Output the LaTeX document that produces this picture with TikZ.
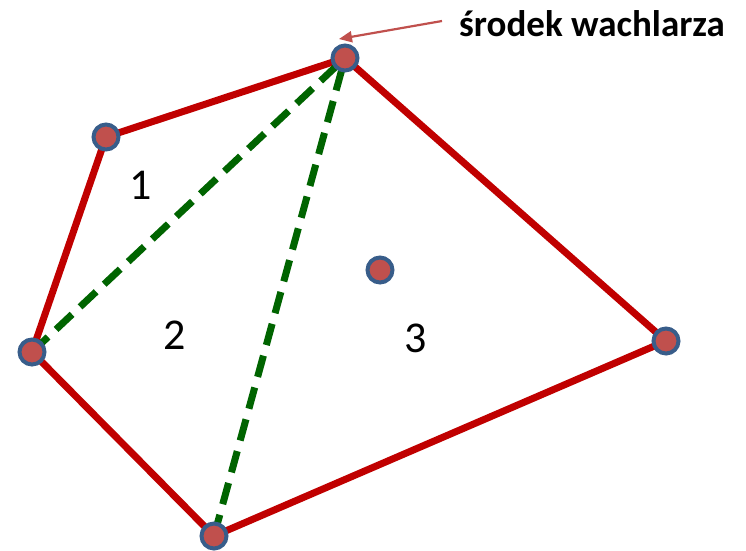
\documentclass[tikz,border=0pt]{standalone}
\usepackage{fontspec}
\setmainfont{Carlito}
\usetikzlibrary{arrows.meta, positioning}
\definecolor{EdgeRed}{RGB}{192,0,0}
\definecolor{RingBlue}{RGB}{56,93,138}
\definecolor{DotRed}{RGB}{192,80,77}
\definecolor{DiagGreen}{RGB}{0,100,0}
\tikzset{
  >=latex,
  % punkty wielokata
  vertex/.style={circle,draw=RingBlue,fill=DotRed,line width=4pt,minimum size=25pt,inner sep=0pt},
  % krawedzie
  edge/.style={EdgeRed,line width=7pt},
  diag/.style={DiagGreen,line width=7pt,dash pattern=on 22pt off 11pt},
  pointer/.style={-{Triangle[length=13pt,width=11pt]},DotRed,line width=2.2pt},
  region/.style={font=\fontsize{44}{46}\selectfont}
}
\begin{document}
\begin{tikzpicture}[x=1pt,y=-1pt]
    \useasboundingbox (0,0) rectangle (746,550);
    % wierzcholki
    \coordinate (a) at (345,58);
    \coordinate (b) at (106,137);
    \coordinate (c) at (32,352);
    \coordinate (d) at (214,536);
    \coordinate (e) at (666,341);
    % krawedzie
    \draw[edge] (a)--(b)--(c)--(d)--(e)--cycle;
    % przekatne wachlarza
    \draw[diag] (c)--(a);
    \draw[diag] (d)--(a);
    % punkty
    \foreach \p in {a,b,c,d,e}
      \node[vertex] (v\p) at (\p) {};
    \node[vertex] (inner) at (380,270) {};
    % numery trojkatow
    \node[region] (t1) at (141,185) {1};
    \node[region] (t2) at (175,335) {2};
    \node[region] (t3) at (416,338) {3};
    % opis
    \node[font=\fontsize{37}{40}\selectfont\bfseries,anchor=west,inner sep=0pt] (label) at (459,24) {środek wachlarza};
    \coordinate (tip) at (339,39);
    \draw[pointer] (label.west) ++(-17,-3) -- (tip);
\end{tikzpicture}
\end{document}
